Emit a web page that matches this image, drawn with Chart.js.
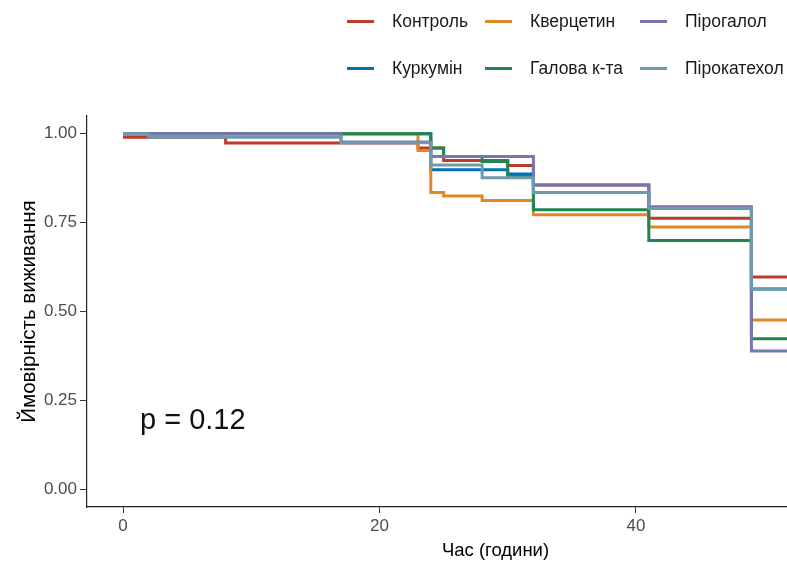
<!DOCTYPE html>
<html>
<head>
<meta charset="utf-8">
<script src="https://cdn.jsdelivr.net/npm/chart.js@4/dist/chart.umd.min.js"></script>
<style>
  html, body { margin: 0; padding: 0; background: #fff; overflow: hidden; }
  #wrap { position: relative; width: 904px; height: 562px; font-family: 'Liberation Sans', Arial, sans-serif; }
  #wrap canvas { position: absolute; left: 0; top: 0; }
  .key { position: absolute; height: 20px; display: flex; align-items: center; font-size: 17.5px; color: #1a1a1a; white-space: nowrap; }
  .key i { display: inline-block; width: 27px; height: 3px; margin-right: 18px; }
  #pval { position: absolute; left: 140px; top: 403px; font-size: 29px; color: #111; white-space: nowrap; }
</style>
</head>
<body>
<div id="wrap">
  <canvas id="survChart" width="904" height="562"></canvas>
  <div id="pval">p = 0.12</div>
</div>
<script>
// groups in legend order (column-wise, as ggplot draws them)
const groups = ['Контроль', 'Куркумін', 'Кверцетин', 'Галова к-та', 'Пірогалол', 'Пірокатехол'];
const colors = ['#BC3C29', '#0072B5', '#E18727', '#20854E', '#7876B1', '#6F99AD'];

// survival steps: time (hours) and survival probability from that time on
const controlTime = [0, 8, 23, 25, 30, 32, 41, 49, 56];
const controlSurv = [0.99, 0.974, 0.96, 0.925, 0.911, 0.856, 0.762, 0.597, 0.597];
const curcuminTime = [0, 24, 30, 32, 41, 49, 56];
const curcuminSurv = [1, 0.899, 0.887, 0.835, 0.79, 0.563, 0.563];
const quercetinTime = [0, 23, 24, 25, 28, 32, 41, 49, 56];
const quercetinSurv = [1, 0.953, 0.835, 0.825, 0.812, 0.772, 0.738, 0.476, 0.476];
const gallicTime = [0, 24, 25, 28, 30, 32, 41, 49, 56];
const gallicSurv = [1, 0.96, 0.936, 0.922, 0.88, 0.786, 0.70, 0.423, 0.423];
const pyrogallolTime = [0, 17, 24, 32, 41, 49, 56];
const pyrogallolSurv = [1, 0.977, 0.936, 0.856, 0.795, 0.389, 0.389];
const pyrocatecholTime = [0, 2, 17, 24, 28, 32, 41, 49, 56];
const pyrocatecholSurv = [1, 0.99, 0.975, 0.912, 0.876, 0.835, 0.79, 0.563, 0.563];

const xTicks = [0, 20, 40];
const yTicks = [0, 0.25, 0.5, 0.75, 1];

const times = [controlTime, curcuminTime, quercetinTime, gallicTime, pyrogallolTime, pyrocatecholTime];
const survs = [controlSurv, curcuminSurv, quercetinSurv, gallicSurv, pyrogallolSurv, pyrocatecholSurv];

const datasets = groups.map((name, i) => ({
    label: name,
    data: times[i].map((t, j) => ({ x: t, y: survs[i][j] })),
    borderColor: colors[i],
    backgroundColor: colors[i],
    borderWidth: 3,
    pointRadius: 0,
    stepped: true,
    fill: false,
    order: groups.length - 1 - i   // later groups drawn on top
}));

// legend, 3 columns x 2 rows, filled by column
const wrap = document.getElementById('wrap');
const colX = [347, 485, 640];
const rowY = [11, 58];
groups.forEach((name, i) => {
    const el = document.createElement('div');
    el.className = 'key';
    el.style.left = colX[Math.floor(i / 2)] + 'px';
    el.style.top = rowY[i % 2] + 'px';
    el.innerHTML = '<i style="background:' + colors[i] + '"></i>' + name;
    wrap.appendChild(el);
});

const font = 'Liberation Sans, Arial, sans-serif';

new Chart(document.getElementById('survChart'), {
    type: 'scatter',
    data: { datasets: datasets },
    options: {
        responsive: false,
        animation: false,
        showLine: true,
        layout: { padding: { top: 116, left: 0, right: 0, bottom: 0 } },
        plugins: { legend: { display: false }, tooltip: { enabled: false } },
        scales: {
            x: {
                type: 'linear',
                min: -2.81,
                max: 60.9,
                afterBuildTicks: s => { s.ticks = xTicks.map(v => ({ value: v })); },
                afterFit: s => { s.height = 55; },
                grid: { display: true, drawOnChartArea: false, drawTicks: true, tickLength: 6, color: '#333', lineWidth: 1 },
                border: { display: true, color: '#222', width: 1.2 },
                ticks: { color: '#4D4D4D', padding: 3, font: { family: font, size: 17 } },
                title: { display: true, text: 'Час (години)', color: '#000', padding: { top: 0, bottom: 0 }, font: { family: font, size: 18.5 } }
            },
            y: {
                type: 'linear',
                min: -0.05,
                max: 1.05,
                afterBuildTicks: s => { s.ticks = yTicks.map(v => ({ value: v })); },
                afterFit: s => { s.width = 87; },
                grid: { display: true, drawOnChartArea: false, drawTicks: true, tickLength: 7, color: '#333', lineWidth: 1 },
                border: { display: true, color: '#222', width: 1.2 },
                ticks: { color: '#4D4D4D', padding: 3, font: { family: font, size: 17 }, callback: v => v.toFixed(2) },
                title: { display: true, text: 'Ймовірність виживання', color: '#000', padding: { top: 17, bottom: 0 }, font: { family: font, size: 20.5 } }
            }
        }
    }
});
</script>
</body>
</html>
